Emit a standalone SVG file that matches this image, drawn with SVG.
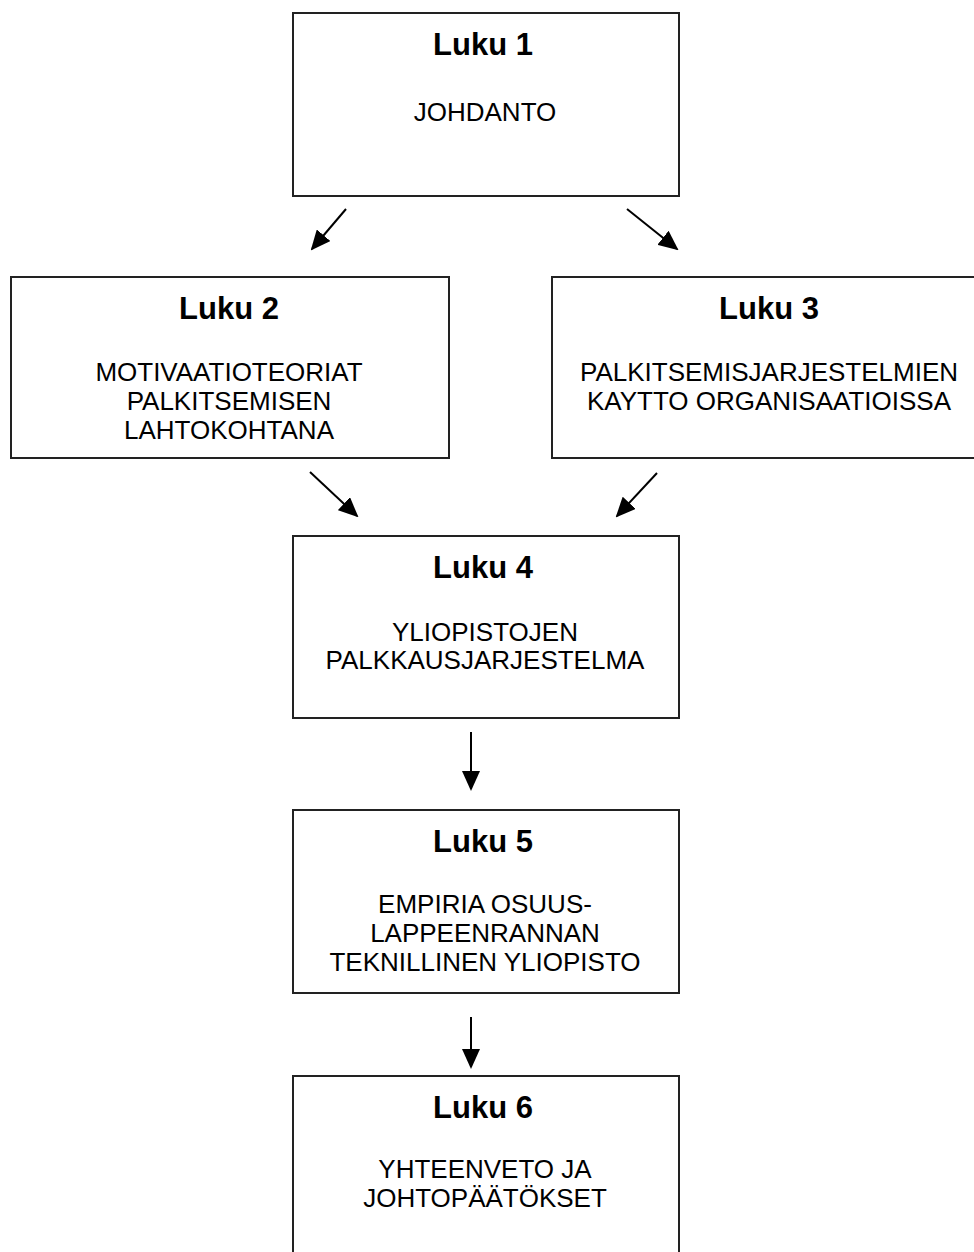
<svg xmlns="http://www.w3.org/2000/svg" width="974" height="1252" viewBox="0 0 974 1252">
<style>
.box{fill:#fff;stroke:#222;stroke-width:2}
.t{font-family:"Liberation Sans",Arial,sans-serif;font-weight:bold;font-size:31px;fill:#000;text-anchor:middle}
.b{font-family:"Liberation Sans",Arial,sans-serif;font-size:26px;fill:#000;text-anchor:middle}
.c{stroke:#000;stroke-width:2;fill:none;marker-end:url(#ah)}
</style>
<defs>
<marker id="ah" markerUnits="userSpaceOnUse" markerWidth="20" markerHeight="18" refX="18" refY="9" orient="auto">
<path d="M0,0 L20,9 L0,18 z" fill="#000"/>
</marker>
</defs>
<rect width="974" height="1252" fill="#fff"/>
<g id="node1">
<rect class="box" x="293" y="13" width="386" height="183"/>
<text class="t" x="483" y="55">Luku 1</text>
<text class="b" x="485" y="121">JOHDANTO</text>
</g>
<g id="node2">
<rect class="box" x="11" y="277" width="438" height="181"/>
<text class="t" x="229" y="319">Luku 2</text>
<text class="b" x="229" y="381">MOTIVAATIOTEORIAT</text>
<text class="b" x="229" y="410">PALKITSEMISEN</text>
<text class="b" x="229" y="439">LAHTOKOHTANA</text>
</g>
<g id="node3">
<rect class="box" x="552" y="277" width="440" height="181"/>
<text class="t" x="769" y="319">Luku 3</text>
<text class="b" x="769" y="381">PALKITSEMISJARJESTELMIEN</text>
<text class="b" x="769" y="410">KAYTTO ORGANISAATIOISSA</text>
</g>
<g id="node4">
<rect class="box" x="293" y="536" width="386" height="182"/>
<text class="t" x="483" y="578">Luku 4</text>
<text class="b" x="485" y="641">YLIOPISTOJEN</text>
<text class="b" x="485" y="669">PALKKAUSJARJESTELMA</text>
</g>
<g id="node5">
<rect class="box" x="293" y="810" width="386" height="183"/>
<text class="t" x="483" y="852">Luku 5</text>
<text class="b" x="485" y="913">EMPIRIA OSUUS-</text>
<text class="b" x="485" y="942">LAPPEENRANNAN</text>
<text class="b" x="485" y="971">TEKNILLINEN YLIOPISTO</text>
</g>
<g id="node6">
<rect class="box" x="293" y="1076" width="386" height="200"/>
<text class="t" x="483" y="1118">Luku 6</text>
<text class="b" x="485" y="1178">YHTEENVETO JA</text>
<text class="b" x="485" y="1207">JOHTOPÄÄTÖKSET</text>
</g>
<g id="connectors">
<line class="c" x1="346" y1="209" x2="312" y2="249"/>
<line class="c" x1="627" y1="209" x2="677" y2="249"/>
<line class="c" x1="310" y1="472" x2="357" y2="516"/>
<line class="c" x1="657" y1="473" x2="617" y2="516"/>
<line class="c" x1="471" y1="732" x2="471" y2="789"/>
<line class="c" x1="471" y1="1017" x2="471" y2="1067"/>
</g>
</svg>
